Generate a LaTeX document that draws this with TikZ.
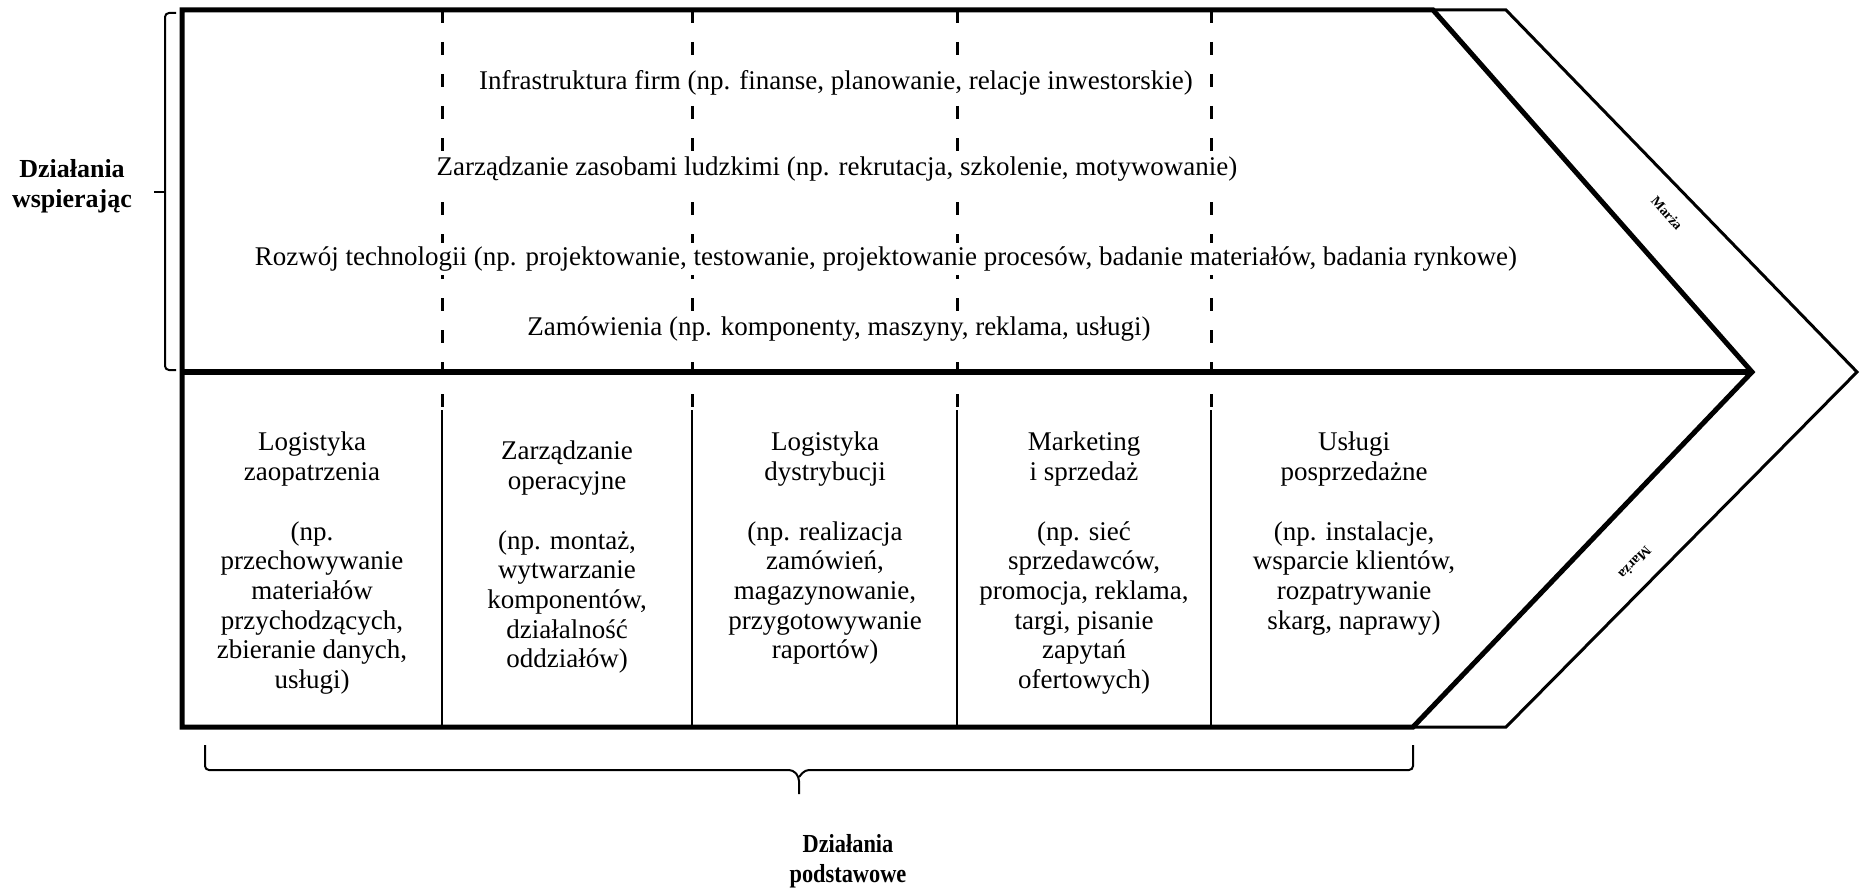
\documentclass[tikz,border=0pt]{standalone}
\usepackage{fontspec}
\setmainfont{Liberation Serif}
\newfontfamily\condserif{Liberation Serif}[FakeStretch=0.86]
\begin{document}
\begin{tikzpicture}[x=1pt,y=-1pt,
  txt/.style={font=\fontsize{27}{29.7}\selectfont, align=center, inner sep=0pt},
  rowtxt/.style={txt, fill=white, inner xsep=3pt, inner ysep=4pt},
  lbl/.style={font=\bfseries\fontsize{26}{30}\selectfont, align=center, inner sep=0pt},
  marza/.style={font=\bfseries\fontsize{14}{16}\selectfont, inner sep=0pt},
  thick frame/.style={line width=5pt, line join=miter},
  thin frame/.style={line width=3pt, line join=miter},
  divdash/.style={line width=3pt, dash pattern=on 13pt off 19pt},
  divsolid/.style={line width=2.5pt},
  bracket/.style={line width=2pt, rounded corners=4pt}]
\useasboundingbox (0,0) rectangle (1862,888);

% key points
\coordinate (TL) at (182,10);
\coordinate (TR) at (1433,10);
\coordinate (TIP) at (1752,372);
\coordinate (BR) at (1413,727);
\coordinate (BL) at (182,727);
\coordinate (ML) at (182,372);
\coordinate (OTR) at (1506,10);
\coordinate (OTIP) at (1857,372);
\coordinate (OBR) at (1506,727);

% column dividers
\foreach \x [count=\i] in {442,692,957,1211}{
  \coordinate (d\i t) at (\x,10);
  \coordinate (d\i m) at (\x,410);
  \coordinate (d\i b) at (\x,727);
  \draw[divdash] (d\i t) -- (d\i m);
  \draw[divsolid] (d\i m) -- (d\i b);
}

% support activities
\node[rowtxt] (infra) at (836,83) {Infrastruktura firm (np. finanse, planowanie, relacje inwestorskie)};
\node[rowtxt] (hr) at (837,169) {Zarządzanie zasobami ludzkimi (np. rekrutacja, szkolenie, motywowanie)};
\node[rowtxt] (tech) at (886,259) {Rozwój technologii (np. projektowanie, testowanie, projektowanie procesów, badanie materiałów, badania rynkowe)};
\node[rowtxt] (zam) at (839,329) {Zamówienia (np. komponenty, maszyny, reklama, usługi)};

% primary activities
\node[txt, anchor=north] (c1) at (312,432) {Logistyka\\zaopatrzenia\\[29.7pt](np.\\przechowywanie\\materiałów\\przychodzących,\\zbieranie danych,\\usługi)};
\node[txt, anchor=north] (c2) at (567,441) {Zarządzanie\\operacyjne\\[29.7pt](np. montaż,\\wytwarzanie\\komponentów,\\działalność\\oddziałów)};
\node[txt, anchor=north] (c3) at (825,432) {Logistyka\\dystrybucji\\[29.7pt](np. realizacja\\zamówień,\\magazynowanie,\\przygotowywanie\\raportów)};
\node[txt, anchor=north] (c4) at (1084,432) {Marketing\\i sprzedaż\\[29.7pt](np. sieć\\sprzedawców,\\promocja, reklama,\\targi, pisanie\\zapytań\\ofertowych)};
\node[txt, anchor=north] (c5) at (1354,432) {Usługi\\posprzedażne\\[29.7pt](np. instalacje,\\wsparcie klientów,\\rozpatrywanie\\skarg, naprawy)};

% frame
\draw[thick frame] (TL) -- (TR) -- (TIP) -- (BR) -- (BL) -- cycle;
\draw[line width=6pt] (ML) -- (TIP);
\draw[thin frame] (TR) -- (OTR) -- (OTIP) -- (OBR) -- (BR);

% margin labels
\node[marza, rotate=-48.6] (m1) at (1667,213) {Marża};
\node[marza, rotate=-133.7] (m2) at (1635,563) {Marża};

% left bracket
\coordinate (lb1) at (176,13);
\coordinate (lb2) at (165,13);
\coordinate (lb3) at (165,370);
\coordinate (lb4) at (176,370);
\coordinate (lbm) at (165,192);
\coordinate (lbt) at (154,192);
\draw[bracket] (lb1) -- (lb2) -- (lb3) -- (lb4);
\draw[line width=2pt] (lbm) -- (lbt);
\node[lbl] (sup) at (72,186) {Działania\\wspierając};

% bottom brace
\coordinate (bb1) at (205,745);
\coordinate (bb2) at (205,770);
\coordinate (bbm) at (799,777);
\coordinate (bbt) at (799,794);
\coordinate (bb3) at (1413,770);
\coordinate (bb4) at (1413,745);
\draw[bracket] (bb1) -- (bb2) -- (793,770) -- (bbm) -- (bbt);
\draw[bracket] (bb4) -- (bb3) -- (805,770) -- (bbm);
\node[lbl, font=\condserif\bfseries\fontsize{26}{30}\selectfont] (prim) at (848,861) {Działania\\podstawowe};
\end{tikzpicture}
\end{document}
